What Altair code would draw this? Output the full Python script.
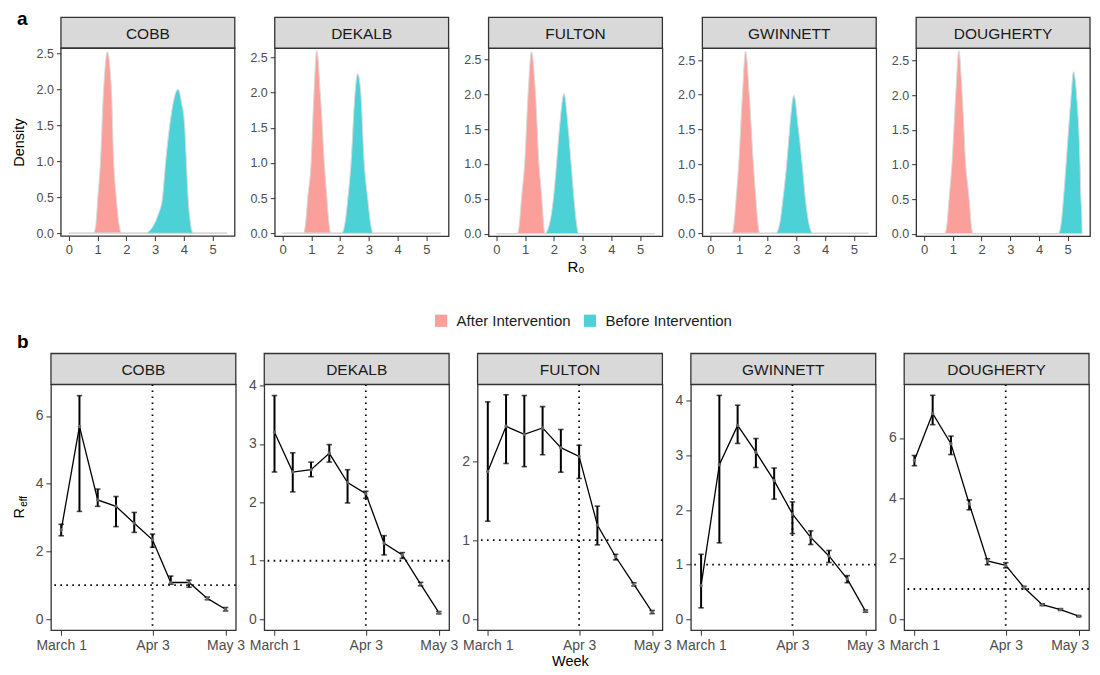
import altair as alt
import pandas as pd

FONT = "Liberation Sans"

COUNTIES = ["COBB", "DEKALB", "FULTON", "GWINNETT", "DOUGHERTY"]
GROUPS = ["After Intervention", "Before Intervention"]
GROUP_COLORS = ["#F8766D", "#00BFC4"]

# ---------------- panel a : densities of R0 ----------------
after_x = {
    "COBB":      [0, 0.86, 0.94, 1.01, 1.10, 1.21, 1.34, 1.48, 1.56, 1.65, 1.74, 1.84, 5.5],
    "DEKALB":    [0, 0.72, 0.80, 0.87, 0.99, 1.09, 1.19, 1.31, 1.45, 1.54, 1.60, 1.67, 5.5],
    "FULTON":    [0, 0.72, 0.80, 0.87, 0.98, 1.10, 1.22, 1.36, 1.48, 1.58, 1.63, 1.68, 5.5],
    "GWINNETT":  [0, 0.75, 0.83, 0.90, 0.99, 1.12, 1.23, 1.36, 1.50, 1.59, 1.65, 1.72, 5.5],
    "DOUGHERTY": [0, 0.72, 0.80, 0.87, 0.97, 1.10, 1.21, 1.33, 1.45, 1.57, 1.63, 1.70, 5.5],
}
after_y = {
    "COBB":      [0, 0, 0.12, 0.5, 1.0, 2.0, 2.52, 2.0, 1.0, 0.5, 0.14, 0, 0],
    "DEKALB":    [0, 0, 0.15, 0.5, 1.0, 2.0, 2.60, 2.0, 1.0, 0.5, 0.20, 0, 0],
    "FULTON":    [0, 0, 0.15, 0.5, 1.0, 2.0, 2.61, 2.0, 1.0, 0.5, 0.20, 0, 0],
    "GWINNETT":  [0, 0, 0.15, 0.5, 1.0, 2.0, 2.63, 2.0, 1.0, 0.5, 0.18, 0, 0],
    "DOUGHERTY": [0, 0, 0.15, 0.5, 1.0, 2.0, 2.645, 2.0, 1.0, 0.5, 0.18, 0, 0],
}
before_x = {
    "COBB":      [0, 2.65, 2.90, 3.10, 3.26, 3.37, 3.51, 3.65, 3.80, 3.93, 4.03, 4.09, 4.15, 4.20, 4.33, 5.5],
    "DEKALB":    [0, 2.05, 2.17, 2.27, 2.38, 2.52, 2.61, 2.72, 2.84, 2.96, 3.05, 3.15, 5.5],
    "FULTON":    [0, 1.68, 1.85, 1.98, 2.09, 2.19, 2.35, 2.50, 2.60, 2.70, 2.78, 2.86, 5.5],
    "GWINNETT":  [0, 2.28, 2.42, 2.53, 2.66, 2.76, 2.91, 3.07, 3.20, 3.31, 3.43, 3.57, 5.5],
    "DOUGHERTY": [0, 4.67, 4.77, 4.85, 4.94, 5.12, 5.20, 5.31, 5.43, 5.46, 5.49, 5.5],
}
before_y = {
    "COBB":      [0, 0, 0.08, 0.25, 0.5, 1.0, 1.5, 1.85, 2.0, 1.8, 1.5, 1.0, 0.5, 0.25, 0, 0],
    "DEKALB":    [0, 0, 0.15, 0.5, 1.0, 2.0, 2.27, 2.0, 1.0, 0.5, 0.17, 0, 0],
    "FULTON":    [0, 0, 0.15, 0.5, 1.0, 1.5, 2.01, 1.5, 1.0, 0.5, 0.17, 0, 0],
    "GWINNETT":  [0, 0, 0.15, 0.5, 1.0, 1.5, 1.99, 1.5, 1.0, 0.5, 0.15, 0, 0],
    "DOUGHERTY": [0, 0, 0.15, 0.5, 1.0, 2.0, 2.34, 2.0, 1.0, 0.5, 0.30, 0],
}
R0_DOMAIN = [-0.275, 5.775]
R0_TICKS = [0, 1, 2, 3, 4, 5]
DENS_TICKS = [0, 0.5, 1.0, 1.5, 2.0, 2.5]
DENS_DOMAIN = {
    "COBB": [-0.04, 2.57], "DEKALB": [-0.04, 2.63], "FULTON": [-0.035, 2.66],
    "GWINNETT": [-0.04, 2.67], "DOUGHERTY": [-0.035, 2.68],
}

# ---------------- panel b : weekly R_eff ----------------
WEEKS = [1, 2, 3, 4, 5, 6, 7, 8, 9, 10]
WEEK_TICKS = [1, 6, 10]
WEEK_LABELS = ["March 1", "Apr 3", "May 3"]
WEEK_DOMAIN = [0.44, 10.56]
THRESHOLD = 1
INTERVENTION_WEEK = 6

reff_mid = {
    "COBB":      [2.63, 5.69, 3.52, 3.33, 2.83, 2.34, 1.08, 1.08, 0.61, 0.29],
    "DEKALB":    [3.20, 2.52, 2.56, 2.84, 2.34, 2.15, 1.30, 1.10, 0.60, 0.11],
    "FULTON":    [1.87, 2.44, 2.34, 2.42, 2.17, 2.06, 1.19, 0.79, 0.44, 0.09],
    "GWINNETT":  [0.62, 2.83, 3.55, 3.06, 2.54, 1.93, 1.50, 1.16, 0.74, 0.15],
    "DOUGHERTY": [5.26, 6.81, 5.81, 3.82, 1.93, 1.78, 1.05, 0.48, 0.32, 0.10],
}
reff_lo = {
    "COBB":      [2.46, 3.18, 3.33, 2.73, 2.56, 2.12, 1.03, 0.94, 0.57, 0.24],
    "DEKALB":    [2.52, 2.18, 2.44, 2.69, 1.99, 2.07, 1.10, 1.04, 0.57, 0.09],
    "FULTON":    [1.24, 1.97, 1.93, 2.08, 1.86, 1.78, 0.94, 0.75, 0.42, 0.07],
    "GWINNETT":  [0.21, 1.40, 3.22, 2.78, 2.20, 1.57, 1.37, 1.04, 0.67, 0.13],
    "DOUGHERTY": [5.08, 6.44, 5.45, 3.62, 1.80, 1.70, 1.01, 0.45, 0.29, 0.08],
}
reff_hi = {
    "COBB":      [2.80, 6.60, 3.84, 3.62, 3.15, 2.51, 1.27, 1.15, 0.65, 0.34],
    "DEKALB":    [3.83, 2.85, 2.69, 2.99, 2.56, 2.19, 1.43, 1.14, 0.63, 0.13],
    "FULTON":    [2.75, 2.84, 2.83, 2.69, 2.40, 2.20, 1.43, 0.82, 0.46, 0.11],
    "GWINNETT":  [1.19, 4.10, 3.92, 3.31, 2.77, 2.15, 1.62, 1.26, 0.80, 0.17],
    "DOUGHERTY": [5.42, 7.41, 6.06, 3.95, 2.00, 1.87, 1.09, 0.51, 0.35, 0.12],
}
REFF_DOMAIN = {
    "COBB": [-0.33, 6.93], "DEKALB": [-0.19, 4.02], "FULTON": [-0.14, 2.97],
    "GWINNETT": [-0.20, 4.30], "DOUGHERTY": [-0.365, 7.77],
}
REFF_TICKS = {
    "COBB": [0, 2, 4, 6], "DEKALB": [0, 1, 2, 3, 4], "FULTON": [0, 1, 2],
    "GWINNETT": [0, 1, 2, 3, 4], "DOUGHERTY": [0, 2, 4, 6],
}

# ---------------- layout constants ----------------
W_A, H_A = 174, 188
W_B, H_B = 185, 246
STRIP_H = 31
SHIFT_A = 10          # first top panel sits this much right of the first bottom panel
BORDER = "#333333"

axis_common = dict(domain=False, grid=False, tickColor=BORDER, labelColor="#4D4D4D",
                   labelFont=FONT, titleFont=FONT, titleColor="#000000",
                   titleFontWeight="normal", labelFlush=False)


def strip_layers(c, x0, w):
    sdf = pd.DataFrame({"county": [c]})
    rect = alt.Chart(sdf).mark_rect(fill="#D9D9D9", stroke=BORDER, strokeWidth=1.3).encode(
        x=alt.value(x0), x2=alt.value(x0 + w), y=alt.value(-STRIP_H), y2=alt.value(0))
    txt = alt.Chart(sdf).mark_text(font=FONT, fontSize=15.5, color="#1A1A1A",
                                   baseline="middle", align="center").encode(
        x=alt.value(x0 + w / 2), y=alt.value(-STRIP_H / 2 + 1), text="county:N")
    return [rect, txt]


legend = alt.Legend(orient="none", legendX=383, legendY=265, direction="horizontal",
                    title=None, symbolType="square", symbolSize=150, symbolOpacity=0.7,
                    symbolStrokeWidth=0, labelFontSize=15, labelFont=FONT,
                    labelColor="#1A1A1A", columnPadding=11, labelOffset=8, padding=0)


def density_panel(i, c):
    x0 = SHIFT_A if i == 0 else 0
    rows = []
    for g, xs, ys in ((GROUPS[0], after_x[c], after_y[c]), (GROUPS[1], before_x[c], before_y[c])):
        for xv, yv in zip(xs, ys):
            rows.append({"group": g, "R0": xv, "density": yv})
    df = pd.DataFrame(rows)
    xscale = alt.Scale(domain=R0_DOMAIN, nice=False, zero=False)
    if x0:
        xscale = alt.Scale(domain=R0_DOMAIN, nice=False, zero=False, range=[x0, x0 + W_A])
    yaxis_extra = {"offset": -x0} if x0 else {}
    area = alt.Chart(df).mark_area(interpolate="monotone", fillOpacity=0.7,
                                   stroke="#DADADA", strokeWidth=1).encode(
        x=alt.X("R0:Q", scale=xscale,
                axis=alt.Axis(values=R0_TICKS, format="d", title="R₀" if i == 2 else None,
                              labelFontSize=13, titleFontSize=15, tickSize=4.5,
                              labelPadding=3, titlePadding=3, **axis_common)),
        y=alt.Y("density:Q", stack=None,
                scale=alt.Scale(domain=DENS_DOMAIN[c], nice=False, zero=False),
                axis=alt.Axis(values=DENS_TICKS, format=".1f",
                              title="Density" if i == 0 else None,
                              labelFontSize=12.5, titleFontSize=14.5, tickSize=4.5,
                              labelPadding=3, titlePadding=10, **axis_common, **yaxis_extra)),
        color=alt.Color("group:N", scale=alt.Scale(domain=GROUPS, range=GROUP_COLORS),
                        legend=legend),
    )
    layers = [area] + strip_layers(c, x0, W_A)
    if x0:
        bdf = pd.DataFrame({"k": [0]})
        layers.append(alt.Chart(bdf).mark_rect(fillOpacity=0, stroke=BORDER, strokeWidth=1.3).encode(
            x=alt.value(x0), x2=alt.value(x0 + W_A), y=alt.value(0), y2=alt.value(H_A)))
    if i == 0:
        sdf = pd.DataFrame({"tag": ["a"]})
        layers.append(alt.Chart(sdf).mark_text(font=FONT, fontSize=19, fontWeight="bold",
                                               align="left", baseline="alphabetic",
                                               color="black").encode(
            x=alt.value(-34), y=alt.value(-23), text="tag:N"))
    chart = alt.layer(*layers).properties(width=W_A + x0, height=H_A)
    if x0:
        chart = chart.properties(view=alt.ViewBackground(strokeOpacity=0))
    return chart


label_expr = "".join(f"datum.value == {t} ? '{l}' : " for t, l in zip(WEEK_TICKS, WEEK_LABELS)) + "''"


def reff_panel(i, c):
    df = pd.DataFrame({"week": WEEKS, "reff": reff_mid[c], "lo": reff_lo[c], "hi": reff_hi[c]})
    base = alt.Chart(df)
    extra = {}
    if i == len(COUNTIES) - 1:
        last = WEEK_TICKS[-1]
        extra = dict(
            labelAlign={"condition": {"test": f"datum.value == {last}", "value": "right"},
                        "value": "center"},
            labelOffset={"condition": {"test": f"datum.value == {last}", "value": 10},
                         "value": 0},
        )
    xaxis = alt.Axis(values=WEEK_TICKS, labelExpr=label_expr, title="Week" if i == 2 else None,
                     labelFontSize=14, titleFontSize=14.5, tickSize=5, labelPadding=3,
                     titlePadding=2, **axis_common, **extra)
    xenc = alt.X("week:Q", scale=alt.Scale(domain=WEEK_DOMAIN, nice=False, zero=False), axis=xaxis)

    def yenc(field):
        return alt.Y(f"{field}:Q", scale=alt.Scale(domain=REFF_DOMAIN[c], nice=False, zero=False),
                     axis=alt.Axis(values=REFF_TICKS[c], format="d", title=None, labelFontSize=14,
                                   tickSize=5, labelPadding=3, **axis_common))

    ref = alt.Chart(pd.DataFrame({"k": [0]}))
    hline = ref.mark_rule(color="black", strokeWidth=1.8, strokeDash=[1.6, 4.4]).encode(
        y=alt.datum(THRESHOLD))
    vline = ref.mark_rule(color="black", strokeWidth=1.8, strokeDash=[1.6, 4.4]).encode(
        x=alt.datum(INTERVENTION_WEEK))
    bars = base.mark_rule(color="black", strokeWidth=2).encode(x=xenc, y=yenc("lo"), y2="hi:Q")
    cap_lo = base.mark_tick(orient="horizontal", size=5.5, thickness=1.6, color="black").encode(
        x=xenc, y=yenc("lo"))
    cap_hi = base.mark_tick(orient="horizontal", size=5.5, thickness=1.6, color="black").encode(
        x=xenc, y=yenc("hi"))
    line = base.mark_line(color="black", strokeWidth=1.3).encode(x=xenc, y=yenc("reff"))
    pts = base.mark_circle(size=12, color="#666666", opacity=1).encode(x=xenc, y=yenc("reff"))
    layers = [hline, vline, bars, cap_lo, cap_hi, line, pts] + strip_layers(c, 0, W_B)
    if i == 0:
        sdf = pd.DataFrame({"tag": ["b"], "R": ["R"], "sub": ["eff"]})
        layers.append(alt.Chart(sdf).mark_text(font=FONT, fontSize=19, fontWeight="bold",
                                               align="left", baseline="alphabetic",
                                               color="black").encode(
            x=alt.value(-34), y=alt.value(-36), text="tag:N"))
        layers.append(alt.Chart(sdf).mark_text(font=FONT, fontSize=14.5, angle=270,
                                               align="center", baseline="alphabetic",
                                               color="black").encode(
            x=alt.value(-27), y=alt.value(129), text="R:N"))
        layers.append(alt.Chart(sdf).mark_text(font=FONT, fontSize=10, angle=270,
                                               align="center", baseline="alphabetic",
                                               color="black").encode(
            x=alt.value(-24), y=alt.value(117), text="sub:N"))
    return alt.layer(*layers).properties(width=W_B, height=H_B)


top = alt.hconcat(*[density_panel(i, c) for i, c in enumerate(COUNTIES)],
                  spacing=40, bounds="flush")
bottom = alt.hconcat(*[reff_panel(i, c) for i, c in enumerate(COUNTIES)],
                     spacing=28.5, bounds="flush")

chart = alt.ConcatChart(concat=[top, bottom], columns=1, align="none", spacing=56.5).properties(
    padding={"left": 3, "top": 2, "right": 0, "bottom": 0}
).configure(font=FONT).configure_view(stroke=BORDER, strokeWidth=1.3)

chart.save("out.html", embed_options={"renderer": "svg", "actions": False})
